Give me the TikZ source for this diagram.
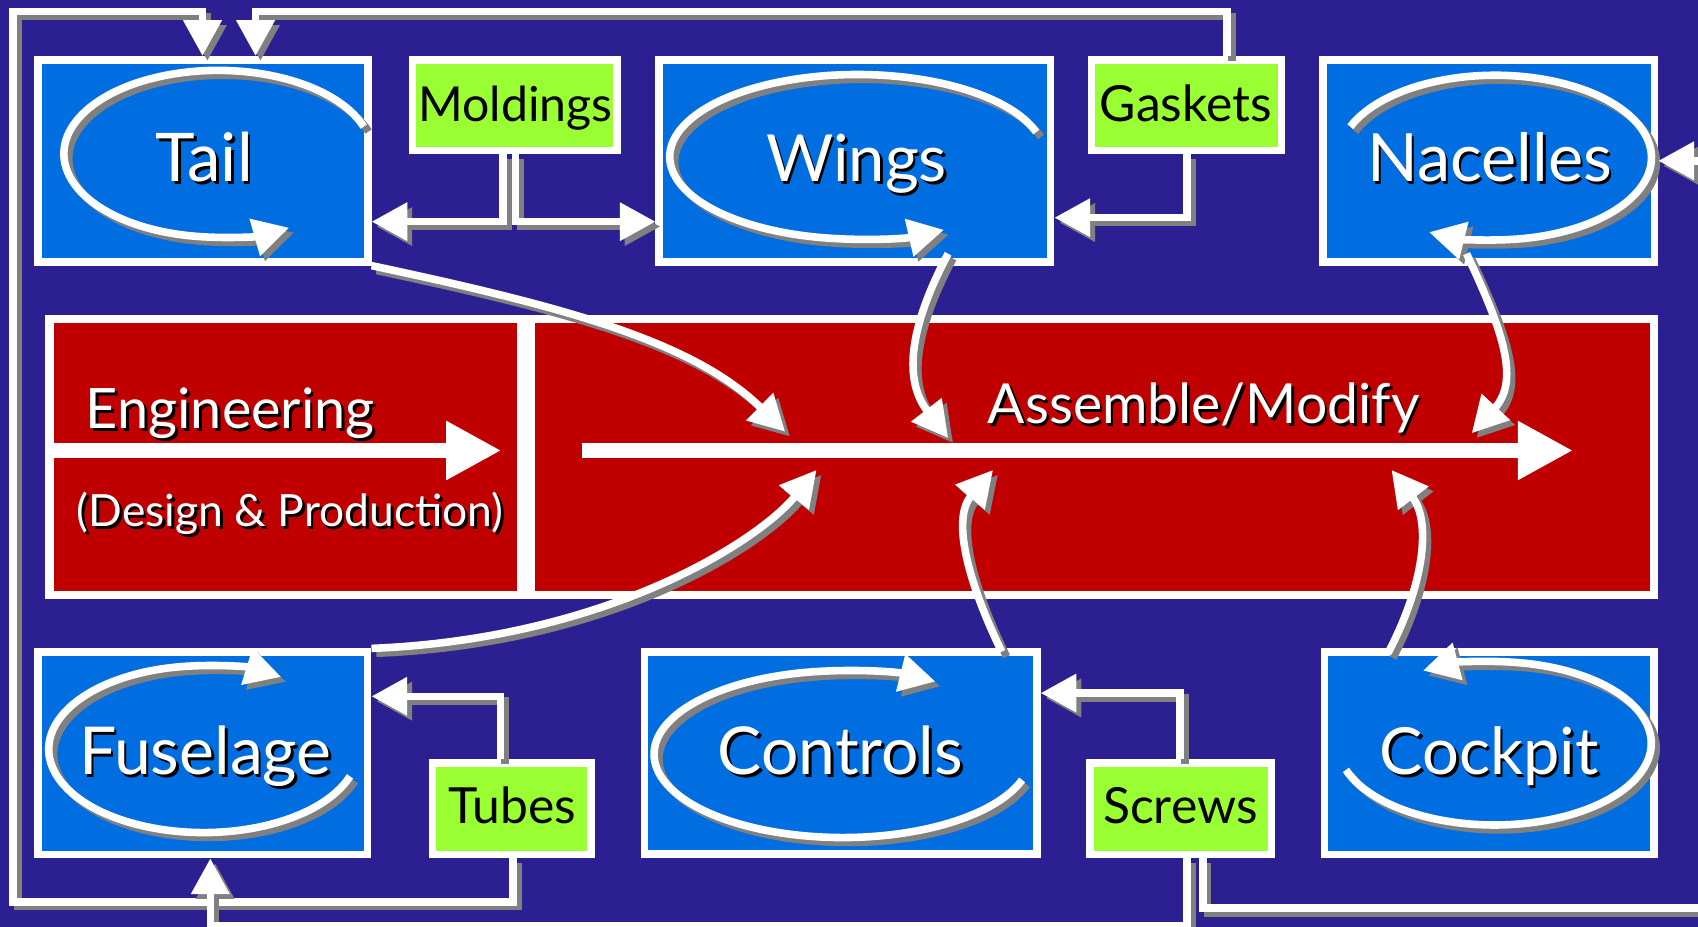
\documentclass[tikz,border=0pt]{standalone}
\usepackage{fontspec}
\setmainfont{Lato}
\usetikzlibrary{arrows.meta}

\definecolor{nightblue}{RGB}{43,31,146}
\definecolor{boxblue}{RGB}{0,110,225}
\definecolor{boxred}{RGB}{192,0,0}
\definecolor{partlime}{RGB}{153,255,51}
\definecolor{shadowgray}{RGB}{128,128,128}

\tikzset{
  bluebox/.style={draw=white, line width=7pt, fill=boxblue, inner sep=0pt, outer sep=3.5pt},
  greenbox/.style={draw=white, line width=7pt, fill=partlime, inner sep=0pt, outer sep=3.5pt},
  redbox/.style={fill=boxred, draw=none, inner sep=0pt, outer sep=0pt},
  wline/.style={draw=white, line width=7pt},
  gline/.style={draw=shadowgray, line width=7pt, transform canvas={shift={(4.5pt,-4.5pt)}}},
  headS/.style={-{Triangle[length=33pt,width=34pt]}},
  flowline/.style={draw=white, line width=14.5pt, -{Triangle[length=51pt,width=51pt]}},
  lbl/.style={anchor=base, inner sep=0pt, outer sep=0pt},
}

% white stroke with a grey drop shadow
\newcommand\shadowpath[2][]{%
  \draw[gline,#1] #2;
  \draw[wline,#1] #2;}

% white lettering with a black drop shadow
\newcommand\shadowlabel[4]{%
  \node[lbl, font=\fontsize{#2}{#2}\selectfont, text=black] at ([shift={(2.5,-2.5)}]#3) {#4};
  \node[lbl, font=\fontsize{#2}{#2}\selectfont, text=white] (#1) at (#3) {#4};}

\begin{document}
\begin{tikzpicture}[x=1pt, y=1pt]
\useasboundingbox (0,0) rectangle (1568,-856);
\begin{scope}
\clip (0,0) rectangle (1568,-856);
\fill[nightblue] (0,0) rectangle (1568,-856);

% ---------- central process band ----------
\node[fill=white, inner sep=0pt, outer sep=0pt, minimum width=1489pt, minimum height=262pt] (frame) at (786.5,-422) {};
\node[redbox, minimum width=427.5pt, minimum height=247.5pt] (eng) at (263.25,-421.75) {};
\node[redbox, minimum width=1030pt, minimum height=247.5pt] (asm) at (1009,-421.75) {};

% ---------- component boxes ----------
\node[bluebox, minimum width=304.7pt, minimum height=186.6pt] (tail)  at (187.3,-148.5) {};
\node[bluebox, minimum width=361.4pt, minimum height=186.6pt] (wings) at (789.5,-148.5) {};
\node[bluebox, minimum width=306.1pt, minimum height=186.6pt] (nacel) at (1374.8,-148.5) {};
\node[bluebox, minimum width=304.7pt, minimum height=186.9pt] (fus)   at (187.2,-695.7) {};
\node[bluebox, minimum width=362.4pt, minimum height=186.6pt] (ctrl)  at (776.3,-695.2) {};
\node[bluebox, minimum width=304.5pt, minimum height=186.8pt] (cock)  at (1375.3,-695.6) {};

% ---------- supplier boxes ----------
\node[greenbox, minimum width=189pt,   minimum height=83.8pt] (mold)   at (475.4,-97.1) {};
\node[greenbox, minimum width=175.5pt, minimum height=83.8pt] (gask)   at (1095.8,-97.1) {};
\node[greenbox, minimum width=146.8pt, minimum height=84.4pt] (tubes)  at (472.6,-746.9) {};
\node[greenbox, minimum width=167.9pt, minimum height=84.4pt] (screws) at (1090.3,-746.9) {};

% ---------- iteration loops inside the component boxes ----------
\shadowpath[headS]{(201.3,-142) ++(19:142.3 and 77) arc[start angle=19, end angle=297.5, x radius=142.3, y radius=77]}
\shadowpath[headS]{(791.7,-144.8) ++(17.5:173.2 and 76) arc[start angle=17.5, end angle=297.5, x radius=173.2, y radius=76]}
\shadowpath[headS]{(1380.7,-145.5) ++(158:144.3 and 76) arc[start angle=158, end angle=-115, x radius=144.3, y radius=76]}
\shadowpath[headS]{(188,-691.8) ++(-19:143 and 77) arc[start angle=-19, end angle=-300, x radius=143, y radius=77]}
\shadowpath[headS]{(778.2,-696.4) ++(-18:174.2 and 77) arc[start angle=-18, end angle=-299.4, x radius=174.2, y radius=77]}
\shadowpath[headS]{(1379.9,-686.4) ++(199:144.9 and 75.4) arc[start angle=199, end angle=477, x radius=144.9, y radius=75.4]}

% ---------- labels ----------
\shadowlabel{tailtxt}{62}{188.5,-167.7}{Tail}
\shadowlabel{wingstxt}{60}{791,-167.7}{Wings}
\shadowlabel{nacetxt}{61.5}{1375.5,-167.7}{Nacelles}
\shadowlabel{fustxt}{61}{189.6,-715.6}{Fuselage}
\shadowlabel{ctrltxt}{61}{776,-715.6}{Controls}
\shadowlabel{cocktxt}{60}{1375,-715.6}{Cockpit}
\shadowlabel{engtxt}{51.5}{212.7,-395.5}{Engineering}
\shadowlabel{dptxt}{41}{268,-486.3}{(Design \& Production)}
\shadowlabel{asmtxt}{51}{1111.5,-391}{Assemble/Modify}

\node[lbl, font=\fontsize{44.5}{44.5}\selectfont] (moldtxt)   at (476,-112.4)  {Moldings};
\node[lbl, font=\fontsize{46}{46}\selectfont]     (gasktxt)   at (1095,-112.4) {Gaskets};
\node[lbl, font=\fontsize{46}{46}\selectfont]     (tubestxt)  at (473,-760.3)  {Tubes};
\node[lbl, font=\fontsize{46}{46}\selectfont]     (screwstxt) at (1090,-760.3) {Screws};

% ---------- main flow arrows ----------
\draw[flowline] ([yshift=5.75pt]eng.west) -- ([xshift=-14pt, yshift=5.75pt]eng.east);
\draw[flowline] ([xshift=43pt, yshift=5.75pt]asm.west) -- ([xshift=-71.4pt, yshift=5.75pt]asm.east);

% ---------- supplier feeds ----------
\shadowpath[headS]{([xshift=-10.9pt]mold.south) |- ([yshift=-56.2pt]tail.east)}
\shadowpath[headS]{([xshift=0.6pt]mold.south) |- ([yshift=-56.2pt]wings.west)}
\shadowpath[headS]{([xshift=0.5pt]gask.south) |- ([yshift=-52.5pt]wings.east)}
\shadowpath[headS]{([xshift=37.5pt]gask.north) -- ++(0,40.9) -| ([xshift=48.7pt]tail.north)}
\shadowpath[headS]{([xshift=1.1pt]tubes.south) -- ++(0,-40.1) -- ++(-461.7,0) -- ++(0,821.9) -| ([xshift=-0.3pt]tail.north)}
\shadowpath[headS]{([xshift=-10.6pt]tubes.north) |- ([yshift=52.7pt]fus.east)}
\shadowpath[headS]{([xshift=-0.6pt]screws.north) |- ([yshift=55.2pt]ctrl.east)}
\shadowpath[headS]{([xshift=20.4pt]screws.south) -- ++(0,-46.1) -- ++(480,0) |- (nacel.east)}
\shadowpath[headS]{([xshift=6pt]screws.south) -- ++(0,-62.4) -| ([xshift=7pt]fus.south)}

% ---------- components entering assembly ----------
\coordinate (a1) at (725,-398.6);
\coordinate (a2) at (875.6,-404.5);
\coordinate (a3) at (1359,-400);
\coordinate (a4) at (754,-434);
\coordinate (a5) at (917,-434);
\coordinate (a6) at (1285,-434);
\shadowpath[headS]{(tail.south east) .. controls (520,-283) and (640,-315) .. (a1)}
\shadowpath[headS]{([xshift=86pt, yshift=11pt]wings.south) .. controls (838,-305) and (835,-352) .. (a2)}
\shadowpath[headS]{([xshift=-20.5pt, yshift=11pt]nacel.south) .. controls (1385,-300) and (1405,-350) .. (a3)}
\shadowpath[headS]{(fus.north east) .. controls (560,-590) and (700,-500) .. (a4)}
\shadowpath[headS]{([xshift=148.7pt, yshift=-3.4pt]ctrl.north) .. controls (895,-540) and (878,-480) .. (a5)}
\shadowpath[headS]{([xshift=-93.6pt, yshift=-4.4pt]cock.north) .. controls (1315,-540) and (1322,-482) .. (a6)}
\end{scope}
\end{tikzpicture}
\end{document}
